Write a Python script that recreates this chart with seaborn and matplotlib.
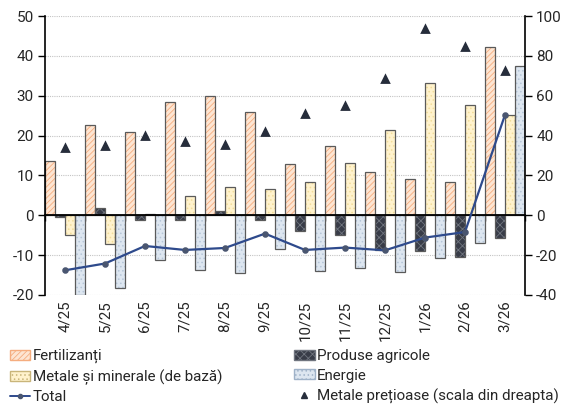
import matplotlib
matplotlib.use('Agg')
import matplotlib.pyplot as plt
import matplotlib.patches as mpatches
import matplotlib.lines as mlines
import seaborn as sns
import numpy as np
import pandas as pd

# date
luni = ['4/25', '5/25', '6/25', '7/25', '8/25', '9/25', '10/25', '11/25', '12/25', '1/26', '2/26', '3/26']
fertilizanti = [13.5, 22.7, 20.8, 28.3, 30.0, 25.8, 12.8, 17.3, 10.8, 9.2, 8.4, 42.3]
produse_agricole = [-0.4, 1.8, -1.1, -1.3, 1.2, -1.3, -4.0, -5.0, -8.8, -9.0, -10.5, -5.8]
metale_minerale = [-4.9, -7.1, 0.2, 4.9, 7.0, 6.6, 8.3, 13.0, 21.4, 33.3, 27.7, 25.2]
energie = [-20.0, -18.3, -11.3, -13.8, -14.4, -8.4, -13.9, -13.2, -14.3, -10.6, -7.0, 37.5]
total = [-13.8, -12.1, -7.7, -8.7, -8.2, -4.6, -8.7, -8.1, -8.8, -5.6, -4.2, 25.2]
metale_pretioase = [34.0, 35.0, 39.8, 36.8, 35.4, 42.0, 50.6, 54.7, 68.2, 93.4, 84.6, 72.5]

serii = ['Fertilizanți', 'Produse agricole', 'Metale și minerale (de bază)', 'Energie']
fete = ['#fde5d2', '#383c48', '#fff2cc', '#dde6f0']
hasuri = ['//////', 'xxxx', '....', '....']
culori_hasura = ['#f5ad7f', '#70757f', '#f1dc9c', '#b6c6d8']
contur = '#5a5a5a'

df = pd.DataFrame({'luna': luni, serii[0]: fertilizanti, serii[1]: produse_agricole,
                   serii[2]: metale_minerale, serii[3]: energie})
df = df.melt(id_vars='luna', var_name='serie', value_name='val')

sns.set_style('white')
plt.rcParams['font.family'] = ['Roboto', 'DejaVu Sans']
plt.rcParams['axes.unicode_minus'] = False
plt.rcParams['hatch.linewidth'] = 0.6

fig = plt.figure(figsize=(5.67, 4.05), dpi=100, facecolor='white')
ax = fig.add_axes([45/567, 1 - 295/405, 480/567, 279/405])

sns.barplot(data=df, x='luna', y='val', hue='serie', hue_order=serii, order=luni,
            width=1, dodge=True, errorbar=None, saturation=1, legend=False,
            palette=fete, ax=ax)

for cont, fc, h, hc in zip(ax.containers, fete, hasuri, culori_hasura):
    for p in cont:
        p.set_facecolor(fc)
        p.set_hatch(h)
        p.set_edgecolor(hc)
        p.set_linewidth(0)
        p.set_zorder(2)
        ax.add_patch(mpatches.Rectangle(p.get_xy(), p.get_width(), p.get_height(),
                                        fill=False, edgecolor=contur, lw=0.9, zorder=2.1))

sns.pointplot(x=luni, y=total, ax=ax, color='#2e4a8c', markers='o', markersize=3.5,
              linewidth=1.6, errorbar=None)
for ln in ax.lines:
    ln.set_zorder(4)
    ln.set_markerfacecolor('#4a5670')
    ln.set_markeredgecolor('#4a5670')

ax2 = ax.twinx()
sns.pointplot(x=luni, y=metale_pretioase, ax=ax2, color='#262d3b', markers='^',
              markersize=4.3, linestyle='none', errorbar=None)

ax.set_ylim(-20, 50)
ax.set_yticks(range(-20, 51, 10))
ax2.set_ylim(-40, 100)
ax2.set_yticks(range(-40, 101, 20))
ax.set_xlim(-0.5, len(luni) - 0.5)
ax.set_xlabel('')
ax.set_ylabel('')
ax2.set_ylabel('')

ax.grid(axis='y', ls=(0, (1, 1)), color='#c4c4c4', lw=0.8)
ax.grid(axis='x', visible=False)
ax2.grid(False)
ax.set_axisbelow(True)

for s in ['top', 'right']:
    ax.spines[s].set_visible(False)
ax.spines['bottom'].set_position(('data', 0))
ax.spines['bottom'].set_color('black')
ax.spines['bottom'].set_linewidth(1.3)
ax.spines['bottom'].set_zorder(3)
ax.spines['left'].set_color('black')
ax.spines['left'].set_linewidth(1.2)
for s in ['top', 'left', 'bottom']:
    ax2.spines[s].set_visible(False)
ax2.spines['right'].set_color('black')
ax2.spines['right'].set_linewidth(1.2)

ax.set_xticks(np.arange(len(luni) + 1) - 0.5, labels=[''] * (len(luni) + 1))
ax.tick_params(axis='x', length=4, width=1, color='black', direction='out', bottom=True)
ax.tick_params(axis='y', length=5, width=1, color='black', direction='out', left=True,
               labelsize=11, pad=3)
ax2.tick_params(axis='y', length=5, width=1, color='black', direction='out', right=True,
                labelsize=11, pad=3)

sec = ax.secondary_xaxis(0.0)
sec.set_xticks(range(len(luni)), labels=luni, rotation=90)
sec.tick_params(length=0, pad=4, labelsize=10.8)
for s in sec.spines.values():
    s.set_visible(False)

handles = [
    mpatches.Patch(facecolor=fete[0], edgecolor=culori_hasura[0], hatch=hasuri[0]),
    mpatches.Patch(facecolor=fete[2], edgecolor='#c9b57a', hatch=hasuri[2]),
    mlines.Line2D([], [], color='#2e4a8c', lw=1.4, marker='o', markersize=3,
                  markerfacecolor='#4a5670', markeredgecolor='#4a5670'),
    mpatches.Patch(facecolor=fete[1], edgecolor=culori_hasura[1], hatch=hasuri[1]),
    mpatches.Patch(facecolor=fete[3], edgecolor='#9fb2c8', hatch=hasuri[3]),
    mlines.Line2D([], [], color='#262d3b', ls='none', marker='^', markersize=4.3),
]
labels = ['Fertilizanți', 'Metale și minerale (de bază)', 'Total',
          'Produse agricole', 'Energie', 'Metale prețioase (scala din dreapta)']
fig.legend(handles, labels, ncol=2, loc='upper left', bbox_to_anchor=(10/567, 1 - 349/405),
           frameon=False, fontsize=10.9, handlelength=1.35, handleheight=0.65,
           handletextpad=0.15, columnspacing=4.75, labelspacing=0.37,
           borderpad=0, borderaxespad=0)

fig.savefig('out.png', dpi=100, facecolor='white')
